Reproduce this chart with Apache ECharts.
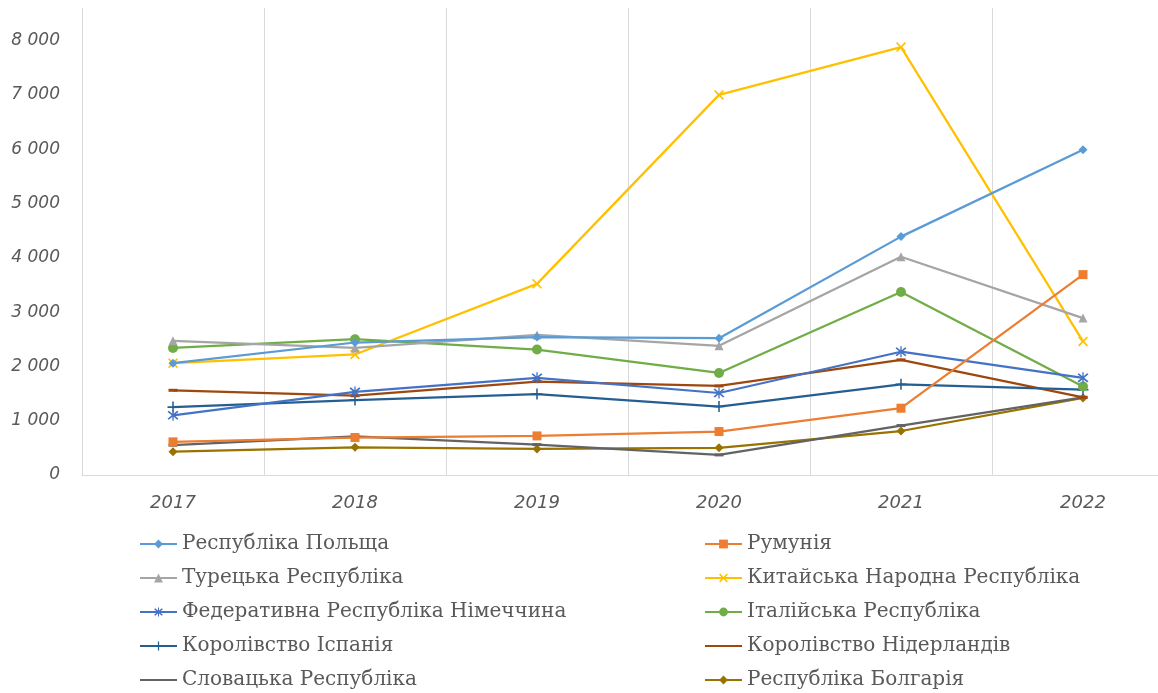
<!DOCTYPE html>
<html>
<head>
<meta charset="utf-8">
<style>html,body{margin:0;padding:0;background:#fff;overflow:hidden;width:1158px;height:693px}#c{width:1176px;height:740px}</style>
<script src="https://cdn.jsdelivr.net/npm/echarts@6/dist/echarts.min.js"></script>
</head>
<body>
<div id="c"></div>
<script>
const years = ['2017', '2018', '2019', '2020', '2021', '2022'];
const poland      = [2060, 2440, 2540, 2520, 4390, 5990];
const romania     = [610, 690, 720, 800, 1230, 3690];
const turkey      = [2470, 2340, 2580, 2380, 4020, 2890];
const china       = [2060, 2220, 3520, 7000, 7880, 2460];
const germany     = [1100, 1530, 1790, 1510, 2270, 1790];
const italy       = [2340, 2500, 2310, 1880, 3370, 1630];
const spain       = [1250, 1380, 1490, 1260, 1670, 1570];
const netherlands = [1560, 1460, 1720, 1640, 2120, 1430];
const slovakia    = [550, 710, 560, 370, 910, 1430];
const bulgaria    = [430, 510, 480, 500, 810, 1420];
const yTicks = [0, 1000, 2000, 3000, 4000, 5000, 6000, 7000, 8000];

const names = ['Республіка Польща', 'Румунія', 'Турецька Республіка', 'Китайська Народна Республіка',
  'Федеративна Республіка Німеччина', 'Італійська Республіка', 'Королівство Іспанія',
  'Королівство Нідерландів', 'Словацька Республіка', 'Республіка Болгарія'];
const values = [poland, romania, turkey, china, germany, italy, spain, netherlands, slovakia, bulgaria];
const colors = ['#5B9BD5', '#ED7D31', '#A5A5A5', '#FFC000', '#4472C4', '#70AD47', '#255E91', '#9E480E', '#636363', '#997300'];
const X = 'path://M0,1.2L1.2,0L5,3.8L8.8,0L10,1.2L6.2,5L10,8.8L8.8,10L5,6.2L1.2,10L0,8.8L3.8,5Z';
const AST = 'path://M0,1.2L1.2,0L5,3.8L8.8,0L10,1.2L6.2,5L10,8.8L8.8,10L5,6.2L1.2,10L0,8.8L3.8,5Z M4.4,-1H5.6V11H4.4Z';
const PLUS = 'path://M4.3,0H5.7V10H4.3Z M0,4.3H10V5.7H0Z';
const DASH = 'path://M0,0H10V3H0Z';
const LINEICON = 'path://M0,0h0.01v0.01h-0.01z M0,4.5H37V6.5H0Z M0,10.99h0.01v0.01h-0.01z';
const symbols = ['diamond', 'rect', 'triangle', X, AST, 'circle', PLUS, DASH, DASH, 'diamond'];
const sizes = [9, 9, 9, 10, 11, 10, 11, [9, 3], [9, 3], 9];

const series = names.map((n, i) => ({
  name: n, type: 'line', data: values[i],
  symbol: symbols[i], symbolSize: sizes[i], showSymbol: true,
  lineStyle: { color: colors[i], width: 2.25 },
  itemStyle: { color: colors[i] },
  z: 10 - i
}));

function fmt(v) {
  if (yTicks.indexOf(v) < 0) return '';
  return String(v).replace(/\B(?=(\d{3})+(?!\d))/g, ' ');
}
function legendItem(i) {
  return (i === 7 || i === 8) ? { name: names[i], icon: LINEICON } : { name: names[i] };
}

const legendText = { fontFamily: 'DejaVu Serif', fontSize: 20, color: '#595959', lineHeight: 22 };
const chart = echarts.init(document.getElementById('c'));
chart.setOption({
  animation: false,
  color: colors,
  grid: { left: 82, top: 8, width: 1092, height: 467, containLabel: false },
  xAxis: {
    type: 'category', data: years, boundaryGap: true,
    axisLine: { show: true, lineStyle: { color: '#D9D9D9', width: 1 } },
    axisTick: { show: false },
    axisLabel: { fontFamily: 'DejaVu Sans', fontStyle: 'italic', fontSize: 18, color: '#595959', margin: 19 },
    splitLine: { show: true, lineStyle: { color: '#D9D9D9', width: 1 } }
  },
  yAxis: {
    type: 'value', min: 0, max: 8600, interval: 1000,
    axisLine: { show: false }, axisTick: { show: false },
    splitLine: { show: false },
    axisLabel: { fontFamily: 'DejaVu Sans', fontStyle: 'italic', fontSize: 17, color: '#595959', margin: 22, formatter: fmt, showMaxLabel: false }
  },
  legend: [
    { orient: 'vertical', left: 134, top: 528, height: 200, itemWidth: 37, itemHeight: 11, itemGap: 12,
      data: [0, 2, 4, 6, 8].map(legendItem), textStyle: legendText },
    { orient: 'vertical', left: 699, top: 528, height: 200, itemWidth: 37, itemHeight: 11, itemGap: 12,
      data: [1, 3, 5, 7, 9].map(legendItem), textStyle: legendText }
  ],
  series: series
});
</script>
</body>
</html>
